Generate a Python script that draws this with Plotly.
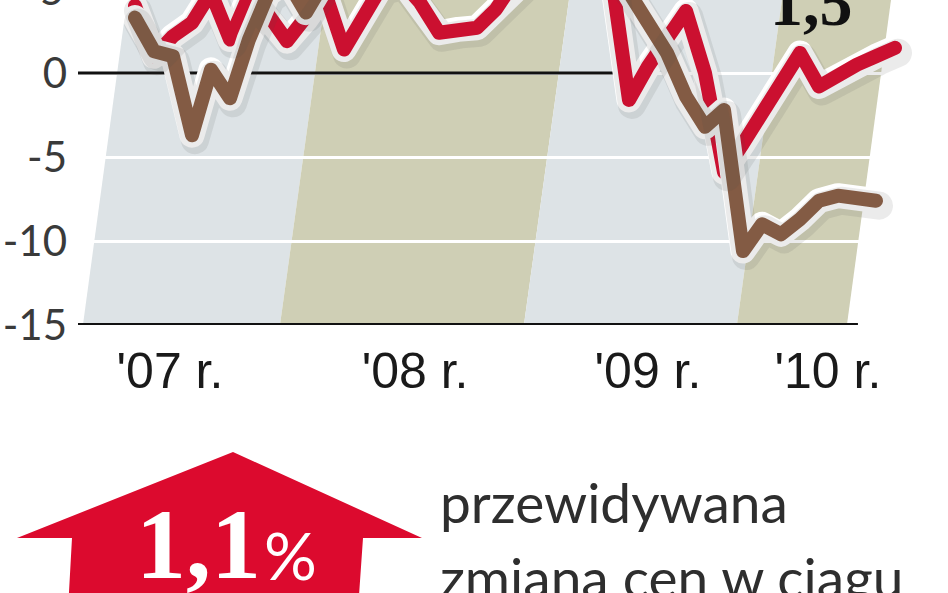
import pandas as pd
import plotly.graph_objects as go

# monthly readings, Mar 2007 .. Jul 2010 (red) / Jun 2010 (brown)
red_months = pd.period_range("2007-03", "2010-07", freq="M")
red_vals = [4.0, 1.0, 2.2, 3.0, 4.8, 2.0, 4.6, 3.5, 1.9, 3.2,
            4.8, 1.4, 3.5, 5.2, 5.5, 4.2, 2.4, 2.6, 2.7, 3.8,
            5.5, 6.0, 5.6, 6.2, 6.6, 6.4, -1.6, 0.4, 2.2, 3.7,
            0.0, -5.9, -4.2, -2.4, -0.6, 1.2, -0.8, -0.1, 0.5, 1.0,
            1.5]

brown_months = pd.period_range("2007-03", "2010-06", freq="M")
brown_vals = [3.3, 1.3, 1.0, -3.7, 0.2, -1.5, 2.0, 4.7, 5.5, 3.6,
              5.5, 6.0, 5.8, 6.5, 7.0, 6.8, 7.3, 7.8, 7.5, 8.0,
              8.2, 7.9, 7.6, 7.2, 6.9, 6.2, 4.8, 3.0, 1.2, -1.4,
              -3.2, -2.2, -10.6, -9.0, -9.6, -8.7, -7.6, -7.3, -7.4, -7.6]

year_labels = ["'07 r.", "'08 r.", "'09 r.", "'10 r."]
y_ticks = [0, -5, -10, -15]
last_label = "1,5"
big_value = "1,1"
caption = ["przewidywana", "zmiana cen w ciągu"]

RED = "#dc0a2e"
BROWN = "#8b5e44"


def mi(months):
    return [(p.year - 2007) * 12 + p.month - 1 for p in months]


rx, bx = mi(red_months), mi(brown_months)

XR = [-1, 44.79]
YTOP = 4.35
YR = [-15, YTOP]

fig = go.Figure()
# soft drop shadow: same data on a slightly shifted overlay axis pair
for xs, ys in [(rx, red_vals), (bx, brown_vals)]:
    fig.add_trace(go.Scatter(x=xs, y=ys, mode="lines", xaxis="x2", yaxis="y2",
                             line=dict(color="rgba(70,70,70,0.11)", width=28),
                             hoverinfo="skip", showlegend=False))
for xs, ys, col in [(rx, red_vals, RED), (bx, brown_vals, BROWN)]:
    fig.add_trace(go.Scatter(x=xs, y=ys, mode="lines", line=dict(color="white", width=25),
                             hoverinfo="skip", showlegend=False))
    fig.add_trace(go.Scatter(x=xs, y=ys, mode="lines", line=dict(color=col, width=14),
                             showlegend=False))

shapes = []
# slanted year bands (bottom x, top x in month units)
edges = [(-0.74, 1.58), (9.63, 12.0), (22.47, 24.84), (33.68, 36.05), (39.47, 41.79)]
band_cols = ["#dde3e6", "#cfcfb5", "#dde3e6", "#cfcfb5"]
for i, c in enumerate(band_cols):
    (b0, t0), (b1, t1) = edges[i], edges[i + 1]
    shapes.append(dict(type="path", xref="x", yref="y", layer="below", line_width=0, fillcolor=c,
                       path=f"M {b0},-15 L {b1},-15 L {t1},{YTOP} L {t0},{YTOP} Z"))
# fade toward top
for y0, y1, op in [(-10, -5, 0.08), (-5, 0, 0.17), (0, YTOP, 0.3)]:
    shapes.append(dict(type="rect", xref="paper", yref="y", layer="below", line_width=0,
                       fillcolor="white", opacity=op, x0=0, x1=1, y0=y0, y1=y1))
# zero line and base line
shapes.append(dict(type="line", xref="x", yref="y", x0=-1, x1=27.2, y0=0, y1=0,
                   line=dict(color="#111", width=3), layer="between"))
shapes.append(dict(type="line", xref="x", yref="y", x0=-1, x1=40.05, y0=-15, y1=-15,
                   line=dict(color="#111", width=4), layer="above"))


def X(px):
    return (px - 78) / 870


def Y(py):
    return (325 - py) / 325


arrow = [(233, 452), (422, 538), (363, 538), (358, 610), (68, 610), (72, 538), (17, 538)]
shapes.append(dict(type="path", xref="paper", yref="paper", line_width=0, fillcolor=RED,
                   path="M " + " L ".join(f"{X(a)},{Y(b)}" for a, b in arrow) + " Z"))

annotations = [
    # the "5" tick sits above the crop, only its foot shows
    dict(x=0, y=Y(-11), xref="paper", yref="paper", text="5", showarrow=False,
         xanchor="right", yanchor="middle", xshift=-12,
         font=dict(family="Lato", size=42, color="#3a3a3a")),
    dict(x=37.6, y=2.75, xref="x", yref="y", text=f"<b>{last_label}</b>", showarrow=False,
         yanchor="bottom", yshift=-14,
         font=dict(family="Liberation Serif", size=66, color="#111")),
    dict(x=X(263), y=Y(580), xref="paper", yref="paper", text=f"<b>{big_value}</b>",
         showarrow=False, xanchor="right", yanchor="bottom", yshift=-22,
         font=dict(family="Liberation Serif", size=100, color="white")),
    dict(x=X(262), y=Y(580), xref="paper", yref="paper", text="%", showarrow=False,
         xanchor="left", yanchor="bottom", yshift=-16,
         font=dict(family="Lato", size=66, color="white")),
    dict(x=X(438), y=Y(523), xref="paper", yref="paper", text=caption[0], showarrow=False,
         xanchor="left", yanchor="bottom", yshift=-14,
         font=dict(family="Lato", size=55, color="#2e2e2e")),
    dict(x=X(438), y=Y(598), xref="paper", yref="paper", text=caption[1], showarrow=False,
         xanchor="left", yanchor="bottom", yshift=-14,
         font=dict(family="Lato", size=55, color="#2e2e2e")),
]

sx, sy = 3 / 19, 5 / 16.8
fig.update_layout(
    width=948, height=593,
    margin=dict(l=78, r=0, t=0, b=268),
    paper_bgcolor="white", plot_bgcolor="white",
    shapes=shapes, annotations=annotations,
    xaxis=dict(range=XR, showgrid=False, zeroline=False, showline=False,
               tickvals=[3.84, 16.74, 29.0, 38.47], ticktext=year_labels, ticks="",
               ticklabelstandoff=12,
               tickfont=dict(family="Liberation Sans", size=50, color="#1a1a1a")),
    yaxis=dict(range=YR, tickvals=y_ticks, ticktext=[str(v) for v in y_ticks],
               showgrid=True, gridcolor="white", gridwidth=3, zeroline=False, showline=False,
               ticks="", ticklabelstandoff=10,
               tickfont=dict(family="Lato", size=42, color="#3a3a3a")),
    xaxis2=dict(overlaying="x", range=[XR[0] - sx, XR[1] - sx], visible=False),
    yaxis2=dict(overlaying="y", range=[YR[0] + sy, YR[1] + sy], visible=False),
)

js = """
document.body.style.margin = '0';
document.body.style.overflow = 'hidden';
document.querySelectorAll('.scatterlayer path.js-line').forEach(function (p) {
  p.style.strokeLinejoin = 'round';
  p.style.strokeLinecap = 'round';
});
"""
fig.write_html("out.html", post_script=js, config={"displayModeBar": False})
